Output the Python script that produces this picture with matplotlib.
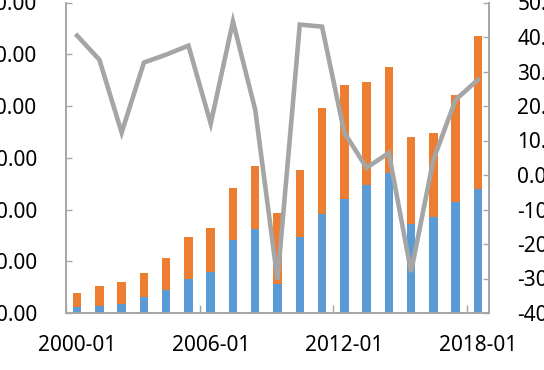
import matplotlib
matplotlib.use("Agg")
import matplotlib.pyplot as plt
from matplotlib.ticker import FormatStrFormatter, FixedLocator

plt.rcParams['font.family'] = ['Noto Sans', 'DejaVu Sans']

# annual data, 2000-01 .. 2018-01
months = ["%d-01" % y for y in range(2000, 2019)]
blue_part = [1.1, 1.4, 1.7, 3.0, 4.4, 6.5, 8.0, 14.2, 16.3, 5.7,
             14.7, 19.2, 22.1, 24.8, 27.0, 17.2, 18.6, 21.5, 23.9]
orange_part = [2.8, 3.9, 4.2, 4.8, 6.2, 8.1, 8.5, 9.9, 12.1, 13.7,
               13.0, 20.5, 22.0, 19.8, 20.5, 16.8, 16.2, 20.6, 29.7]
growth = [40.4, 33.4, 12.3, 32.6, 34.9, 37.5, 14.9, 44.5, 18.9, -30.4,
          43.6, 43.0, 12.3, 2.1, 6.4, -28.1, 4.4, 21.8, 27.6]

BLUE = '#5b9bd5'
ORANGE = '#ed7d31'
GREY = '#a5a5a5'
AXIS = '#a6a6a6'

fig = plt.figure(figsize=(5.44, 3.70), dpi=100)
ax = fig.add_axes([66 / 544, 57 / 370, 423 / 544, 310.5 / 370])
x = list(range(len(months)))

ax.bar(x, blue_part, width=0.38, color=BLUE, zorder=2)
ax.bar(x, orange_part, width=0.38, bottom=blue_part, color=ORANGE, zorder=2)
ax.set_xlim(-0.5, len(months) - 0.5)
ax.set_ylim(0, 60)
ax.set_yticks(range(0, 61, 10))
ax.yaxis.set_major_formatter(FormatStrFormatter('%.2f'))

ax.set_xticks([0, 6, 12, 18])
ax.set_xticklabels([months[i] for i in [0, 6, 12, 18]])
ax.xaxis.set_minor_locator(FixedLocator([-0.5, 5.5, 11.5, 17.5]))
ax.tick_params(axis='x', which='major', length=0, pad=15.5, labelsize=15)
ax.tick_params(axis='x', which='minor', direction='in', length=5.5,
               color=AXIS, width=1)
ax.tick_params(axis='y', direction='in', length=4, color=AXIS, width=1,
               pad=21, labelsize=15)

ax2 = ax.twinx()
ax2.plot(x, growth, color=GREY, lw=3.3, solid_joinstyle='miter', zorder=3)
ax2.set_ylim(-40, 50)
ax2.set_yticks(range(-40, 51, 10))
ax2.yaxis.set_major_formatter(FormatStrFormatter('%.2f'))
ax2.tick_params(axis='y', direction='in', length=4, color=AXIS, width=1,
                pad=20.5, labelsize=15)

for a in (ax, ax2):
    a.spines['top'].set_visible(False)
    for s in ('left', 'right', 'bottom'):
        a.spines[s].set_color(AXIS)
        a.spines[s].set_linewidth(1.2)

fig.savefig('out.png', dpi=100)
